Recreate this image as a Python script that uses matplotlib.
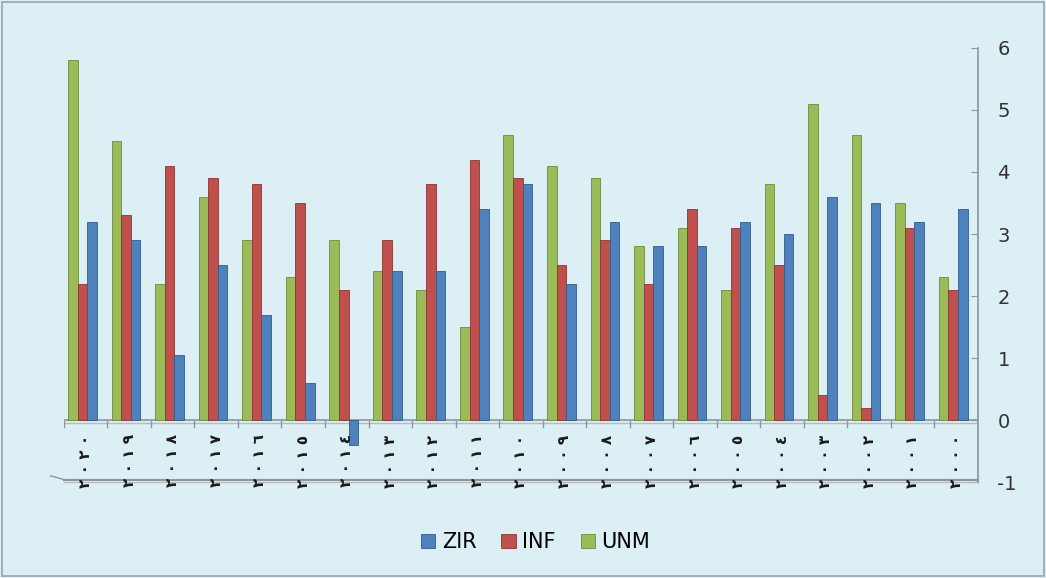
import numpy as np
import matplotlib.pyplot as plt

plt.rcParams['axes.unicode_minus'] = False

years = ['٢٠٢٠', '٢٠١٩', '٢٠١٨', '٢٠١٧', '٢٠١٦', '٢٠١٥', '٢٠١٤', '٢٠١٣', '٢٠١٢', '٢٠١١', '٢٠١٠',
         '٢٠٠٩', '٢٠٠٨', '٢٠٠٧', '٢٠٠٦', '٢٠٠٥', '٢٠٠٤', '٢٠٠٣', '٢٠٠٢', '٢٠٠١', '٢٠٠٠']
unm = [5.8, 4.5, 2.2, 3.6, 2.9, 2.3, 2.9, 2.4, 2.1, 1.5, 4.6,
       4.1, 3.9, 2.8, 3.1, 2.1, 3.8, 5.1, 4.6, 3.5, 2.3]
inf = [2.2, 3.3, 4.1, 3.9, 3.8, 3.5, 2.1, 2.9, 3.8, 4.2, 3.9,
       2.5, 2.9, 2.2, 3.4, 3.1, 2.5, 0.4, 0.2, 3.1, 2.1]
zir = [3.2, 2.9, 1.05, 2.5, 1.7, 0.6, -0.4, 2.4, 2.4, 3.4, 3.8,
       2.2, 3.2, 2.8, 2.8, 3.2, 3.0, 3.6, 3.5, 3.2, 3.4]

bg = '#dceff5'
fig = plt.figure(figsize=(10.46, 5.78), dpi=100, facecolor=bg)
# outer border
fig.patches.append(plt.Rectangle((0.002, 0.003), 0.996, 0.994, transform=fig.transFigure,
                                 fill=False, edgecolor='#9aa4aa', linewidth=1.2))
ax = fig.add_axes([0.061, 0.166, 0.874, 0.751])
ax.set_facecolor(bg)

x = np.arange(len(years)) - 0.07
w = 0.22
b1 = ax.bar(x - w, unm, w, color='#9bbb59', edgecolor='#6f8a3a', linewidth=0.6, label='UNM')
b2 = ax.bar(x, inf, w, color='#c0504d', edgecolor='#8c3431', linewidth=0.6, label='INF')
b3 = ax.bar(x + w, zir, w, color='#4f81bd', edgecolor='#345a8a', linewidth=0.6, label='ZIR')

ax.set_xlim(-0.5, len(years) - 0.5)
ax.set_ylim(-1, 6)

# floor lines
ax.axhline(0, color='#8c969c', linewidth=1.2, zorder=0.5)
ax.axhline(-0.05, color='#b4bcc0', linewidth=1.0, zorder=0.5)
ax.plot([-0.5, len(years) - 0.5], [-0.96, -0.96], color='#8c969c', linewidth=1.5, clip_on=False)
ax.plot([-0.5, len(years) - 0.5], [-1.0, -1.0], color='#b4bcc0', linewidth=1.0, clip_on=False)
ax.plot([-0.8, -0.5], [-0.9, -0.96], color='#8c969c', linewidth=1.0, clip_on=False)

# group separators below zero line
for i in range(len(years) + 1):
    ax.plot([i - 0.5, i - 0.5], [-0.02, -0.12], color='#8c969c', linewidth=1.0)

for i, yl in enumerate(years):
    ax.text(i, -0.66, ' '.join(yl), rotation=90, ha='center', va='center', fontsize=11,
            fontweight='bold', family='DejaVu Sans', color='#1a1a1a', zorder=3)

for s in ['top', 'left', 'bottom']:
    ax.spines[s].set_visible(False)
ax.spines['right'].set_color('#8c969c')
ax.spines['right'].set_linewidth(1.2)
ax.yaxis.tick_right()
ax.set_yticks(range(-1, 7))
ax.tick_params(axis='y', direction='in', length=5, color='#8c969c', labelsize=14,
               labelcolor='#333333', pad=14)
ax.set_xticks([])

fig.legend(handles=[b3, b2, b1], labels=['ZIR', 'INF', 'UNM'], loc='center',
           bbox_to_anchor=(0.512, 0.062), ncol=3, frameon=False, fontsize=15,
           handlelength=0.7, handleheight=0.7, handletextpad=0.3, columnspacing=1.2)

fig.savefig('out.png', dpi=100, facecolor=bg)
